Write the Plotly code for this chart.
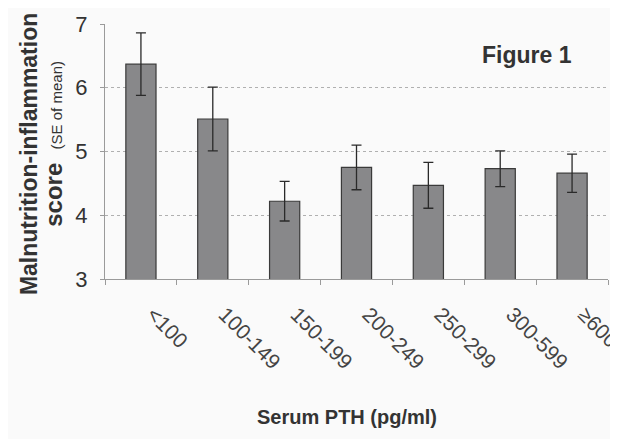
import plotly.graph_objects as go

categories = ["<100", "100-149", "150-199", "200-249", "250-299", "300-599", "≥600"]
mis_mean = [6.37, 5.51, 4.22, 4.75, 4.47, 4.73, 4.66]
mis_se = [0.49, 0.50, 0.31, 0.35, 0.36, 0.28, 0.30]
y_ticks = [3, 4, 5, 6, 7]

FONT = "Liberation Sans, Arial, sans-serif"

fig = go.Figure()
fig.add_trace(go.Bar(
    x=categories, y=mis_mean,
    width=0.42,
    marker=dict(color="#88888a", line=dict(color="#3a3a3a", width=1.2)),
    error_y=dict(type="data", array=mis_se, visible=True, color="#2a2a2a",
                 thickness=1.3, width=5),
))

# page has an 8px body margin, so the figure is 8px smaller than the window
fig.update_layout(
    width=610, height=431,
    margin=dict(l=97, r=10, t=16, b=160, autoexpand=False),
    paper_bgcolor="#fafafa", plot_bgcolor="#fafafa",
    showlegend=False,
    font=dict(family=FONT, color="#333333"),
)
fig.update_xaxes(
    type="category", tickangle=45, automargin=False,
    tickfont=dict(size=21, color="#444444"),
    ticklabelstandoff=14, ticklabelshift=12,
    showline=True, linecolor="#9a9a9a", linewidth=1,
    ticks="outside", tickson="boundaries", ticklen=5, tickcolor="#9a9a9a",
    showgrid=False,
)
fig.update_yaxes(
    range=[3, 7], tickvals=y_ticks, automargin=False,
    tickfont=dict(size=22, color="#333333"),
    showline=True, linecolor="#9a9a9a", linewidth=1,
    ticks="outside", ticklen=4, tickcolor="#9a9a9a",
    ticklabelstandoff=8,
    showgrid=True, gridcolor="#b0b0b0", griddash="dot", gridwidth=1,
    zeroline=False,
)

# y-axis title (two lines, separate sizes)
fig.add_annotation(
    text="<b>Malnutrition-inflammation</b>", textangle=-90,
    xref="paper", yref="paper", x=-0.151, y=0.49,
    xanchor="center", yanchor="middle", showarrow=False,
    font=dict(size=23, color="#333333"),
)
fig.add_annotation(
    text="<b>score</b>  <span style='font-size:15px'>(SE of mean)</span>", textangle=-90,
    xref="paper", yref="paper", x=-0.103, y=0.531,
    xanchor="center", yanchor="middle", showarrow=False,
    font=dict(size=24, color="#333333"),
)
fig.add_annotation(
    text="<b>Figure 1</b>",
    xref="paper", yref="paper", x=0.839, y=0.878,
    xanchor="center", yanchor="middle", showarrow=False,
    font=dict(size=23, color="#333333"),
)
fig.add_annotation(
    text="<b>Serum PTH (pg/ml)</b>",
    xref="paper", yref="paper", x=0.481, y=-0.54,
    xanchor="center", yanchor="middle", showarrow=False,
    font=dict(size=20, color="#333333"),
)

fig.write_html("out.html")
